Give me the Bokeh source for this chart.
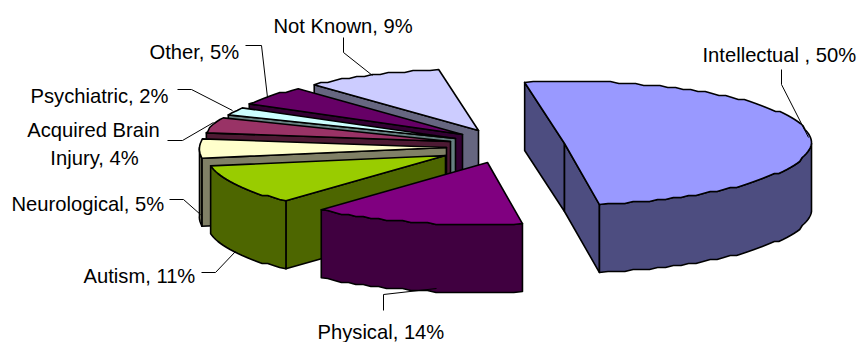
import numpy as np
from bokeh.embed import file_html
from bokeh.models import Range1d
from bokeh.plotting import figure
from bokeh.resources import INLINE
from bokeh.core.properties import value

# Disability groups, clockwise from the first slice angle
categories = ["Intellectual ", "Physical", "Autism", "Neurological",
              "Acquired Brain Injury", "Psychiatric", "Other", "Not Known"]
percent = [50, 14, 11, 5, 4, 2, 5, 9]

top_colors = ["#9999FF", "#800080", "#99CC00", "#FFFFCC",
              "#993366", "#CCFFFF", "#660066", "#CCCCFF"]
wall_colors = ["#4D4D80", "#400040", "#4D6600", "#808066",
               "#4D1A33", "#668080", "#330033", "#666680"]

# Pie projection in page units
CENTER = (447, 147)
RX, RY, DEPTH = 247, 62, 68
FIRST_ANGLE = -10
SKEW_FRONT, SKEW_BACK = 0.13, 0.05
RIM_STEP = 2.0  # the rim is a coarse stepped polyline, as a metafile export draws it

# How far each slice is pulled out of the pie, and its radius scale
explode_x = [117, 40, -2, -1, 3, 8, 15, 31]
explode_y = [-4, 15, 8, 0, -6, -9, -13, -17]
radius_scale = [1, 1, 0.96, 1, 1, 1, 1, 1]

# Back-to-front paint order (indices into categories)
paint_order = [7, 6, 5, 4, 3, 2, 1, 0]

# Single-line labels: slice index, anchor x, anchor y
label_lines = [
    (0, 702, 54),
    (1, 317, 331),
    (2, 83, 275),
    (3, 11, 203),
    (5, 30, 95),
    (6, 149, 51),
    (7, 273, 25),
]
leaders = [
    ([781, 781, 808], [69, 84, 137]),
    ([383, 383, 436], [310, 294, 288]),
    ([201, 215, 235], [272, 272, 251]),
    ([169, 183, 200], [199, 199, 214]),
    ([167, 182, 213], [140, 140, 122]),
    ([177, 191, 232], [89, 89, 110]),
    ([245, 261, 267], [45, 45, 97]),
    ([343, 343, 372], [37, 52, 75]),
]

p = figure(width=857, height=342, output_backend="svg", toolbar_location=None,
           x_range=Range1d(0, 857), y_range=Range1d(342, 0),
           min_border=0, outline_line_color=None, background_fill_color="white")
p.axis.visible = False
p.grid.visible = False

OUTLINE = dict(line_color="black", line_width=1.6, line_join="round")


def rim(cx, cy, scale, a0, a1, drop=0.0):
    """Points on the elliptical rim between two clockwise angles from the top."""
    n = max(2, int(abs(a1 - a0) / 2) + 1)
    t = np.radians(np.linspace(a0, a1, n))
    dx = scale * RX * np.sin(t)
    dy = -scale * RY * np.cos(t)
    # Slight off-axis view: the front leans left, the back leans right
    dx = dx - SKEW_FRONT * np.maximum(dy, 0) - SKEW_BACK * np.minimum(dy, 0)
    stepped = np.round(dy / RIM_STEP) * RIM_STEP
    stepped[0], stepped[-1] = dy[0], dy[-1]
    return cx + dx, cy + stepped + drop


def radial_wall(cx, cy, scale, angle, color):
    ex, ey = rim(cx, cy, scale, angle, angle)
    xs = [cx, ex[0], ex[0], cx]
    ys = [cy, ey[0], ey[0] + DEPTH, cy + DEPTH]
    p.patch(xs, ys, fill_color=color, **OUTLINE)


edges = FIRST_ANGLE + np.concatenate([[0], np.cumsum(percent)]) * 3.6

for i in paint_order:
    a0, a1 = edges[i], edges[i + 1]
    cx = CENTER[0] + explode_x[i]
    cy = CENTER[1] + explode_y[i]
    s = radius_scale[i]

    # Cut faces that turn toward the viewer
    if np.sin(np.radians(a0)) < 0:
        radial_wall(cx, cy, s, a0, wall_colors[i])
    if np.sin(np.radians(a1)) > 0:
        radial_wall(cx, cy, s, a1, wall_colors[i])

    # Outer wall along the front half of the rim
    f0, f1 = max(a0, 90), min(a1, 270)
    if f1 > f0:
        tx, ty = rim(cx, cy, s, f0, f1)
        bx, by = rim(cx, cy, s, f0, f1, DEPTH)
        p.patch(np.concatenate([tx, bx[::-1]]), np.concatenate([ty, by[::-1]]),
                fill_color=wall_colors[i], **OUTLINE)

    # Top face
    tx, ty = rim(cx, cy, s, a0, a1)
    p.patch(np.concatenate([[cx], tx]), np.concatenate([[cy], ty]),
            fill_color=top_colors[i], **OUTLINE)

for lx, ly in leaders:
    p.line(lx, ly, line_color="black", line_width=1)

FONT = dict(text_font=value("Liberation Sans"), text_font_size="20.2px",
            text_color="black", text_baseline="middle")

for i, x, y in label_lines:
    p.text([x], [y], text=[f"{categories[i]}, {percent[i]}%"], text_align="left", **FONT)

# The long label wraps onto two centred lines
acquired_words = categories[4].split(" ")
p.text([93], [129], text=[" ".join(acquired_words[:2])], text_align="center", **FONT)
p.text([94], [157], text=[f"{acquired_words[2]}, {percent[4]}%"], text_align="center", **FONT)

open("out.html", "w").write(file_html(p, INLINE))
